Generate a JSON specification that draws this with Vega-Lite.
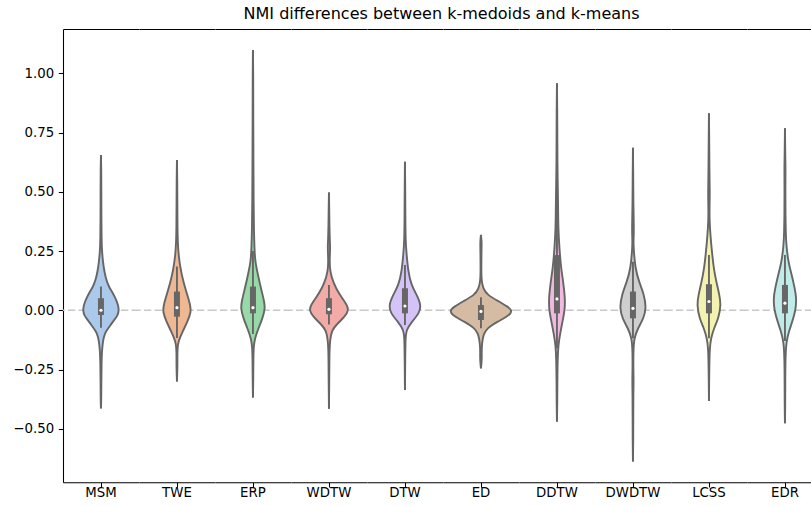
{
 "$schema": "https://vega.github.io/schema/vega-lite/v6.json",
 "padding": {"left": 5, "top": 6, "right": 0, "bottom": 0},
 "bounds": "flush",
 "title": {"text": "NMI differences between k-medoids and k-means", "font": "DejaVu Sans", "fontSize": 16, "fontWeight": "normal", "color": "#000", "offset": 7, "anchor": "middle", "dx": 27},
 "data": {"values": [
  {"c":"MSM","v":0.655,"d":0},{"c":"MSM","v":0.6,"d":0.03},{"c":"MSM","v":0.5,"d":0.04},{"c":"MSM","v":0.4,"d":0.04},{"c":"MSM","v":0.3,"d":0.06},{"c":"MSM","v":0.25,"d":0.1},{"c":"MSM","v":0.205,"d":0.2},{"c":"MSM","v":0.17,"d":0.32},{"c":"MSM","v":0.135,"d":0.48},{"c":"MSM","v":0.1,"d":0.78},{"c":"MSM","v":0.079,"d":1.1},{"c":"MSM","v":0.051,"d":1.45},{"c":"MSM","v":0.022,"d":1.72},{"c":"MSM","v":0.0,"d":1.8},{"c":"MSM","v":-0.02,"d":1.68},{"c":"MSM","v":-0.034,"d":1.45},{"c":"MSM","v":-0.062,"d":0.96},{"c":"MSM","v":-0.09,"d":0.48},{"c":"MSM","v":-0.11,"d":0.3},{"c":"MSM","v":-0.132,"d":0.2},{"c":"MSM","v":-0.17,"d":0.1},{"c":"MSM","v":-0.217,"d":0.06},{"c":"MSM","v":-0.3,"d":0.04},{"c":"MSM","v":-0.38,"d":0.03},{"c":"MSM","v":-0.414,"d":0},
  {"c":"TWE","v":0.634,"d":0},{"c":"TWE","v":0.55,"d":0.03},{"c":"TWE","v":0.45,"d":0.04},{"c":"TWE","v":0.35,"d":0.05},{"c":"TWE","v":0.29,"d":0.08},{"c":"TWE","v":0.233,"d":0.16},{"c":"TWE","v":0.177,"d":0.35},{"c":"TWE","v":0.121,"d":0.63},{"c":"TWE","v":0.065,"d":1.03},{"c":"TWE","v":0.022,"d":1.33},{"c":"TWE","v":-0.006,"d":1.42},{"c":"TWE","v":-0.048,"d":1.06},{"c":"TWE","v":-0.09,"d":0.56},{"c":"TWE","v":-0.132,"d":0.13},{"c":"TWE","v":-0.16,"d":0.06},{"c":"TWE","v":-0.2,"d":0.04},{"c":"TWE","v":-0.23,"d":0.05},{"c":"TWE","v":-0.26,"d":0.03},{"c":"TWE","v":-0.301,"d":0},
  {"c":"ERP","v":1.098,"d":0},{"c":"ERP","v":1.0,"d":0.03},{"c":"ERP","v":0.8,"d":0.03},{"c":"ERP","v":0.6,"d":0.05},{"c":"ERP","v":0.45,"d":0.07},{"c":"ERP","v":0.35,"d":0.09},{"c":"ERP","v":0.26,"d":0.15},{"c":"ERP","v":0.205,"d":0.22},{"c":"ERP","v":0.149,"d":0.5},{"c":"ERP","v":0.093,"d":0.8},{"c":"ERP","v":0.037,"d":1.13},{"c":"ERP","v":0.008,"d":1.22},{"c":"ERP","v":-0.034,"d":0.96},{"c":"ERP","v":-0.076,"d":0.55},{"c":"ERP","v":-0.118,"d":0.2},{"c":"ERP","v":-0.15,"d":0.08},{"c":"ERP","v":-0.2,"d":0.04},{"c":"ERP","v":-0.3,"d":0.03},{"c":"ERP","v":-0.368,"d":0},
  {"c":"WDTW","v":0.497,"d":0},{"c":"WDTW","v":0.42,"d":0.03},{"c":"WDTW","v":0.35,"d":0.05},{"c":"WDTW","v":0.3,"d":0.08},{"c":"WDTW","v":0.262,"d":0.13},{"c":"WDTW","v":0.22,"d":0.07},{"c":"WDTW","v":0.18,"d":0.08},{"c":"WDTW","v":0.142,"d":0.23},{"c":"WDTW","v":0.093,"d":0.68},{"c":"WDTW","v":0.051,"d":1.33},{"c":"WDTW","v":0.022,"d":1.8},{"c":"WDTW","v":0.001,"d":1.98},{"c":"WDTW","v":-0.027,"d":1.6},{"c":"WDTW","v":-0.062,"d":0.7},{"c":"WDTW","v":-0.085,"d":0.33},{"c":"WDTW","v":-0.104,"d":0.2},{"c":"WDTW","v":-0.14,"d":0.08},{"c":"WDTW","v":-0.2,"d":0.04},{"c":"WDTW","v":-0.3,"d":0.03},{"c":"WDTW","v":-0.416,"d":0},
  {"c":"DTW","v":0.627,"d":0},{"c":"DTW","v":0.5,"d":0.03},{"c":"DTW","v":0.4,"d":0.04},{"c":"DTW","v":0.29,"d":0.06},{"c":"DTW","v":0.233,"d":0.17},{"c":"DTW","v":0.163,"d":0.33},{"c":"DTW","v":0.107,"d":0.63},{"c":"DTW","v":0.065,"d":1.18},{"c":"DTW","v":0.022,"d":1.62},{"c":"DTW","v":-0.013,"d":1.43},{"c":"DTW","v":-0.048,"d":0.7},{"c":"DTW","v":-0.083,"d":0.13},{"c":"DTW","v":-0.12,"d":0.05},{"c":"DTW","v":-0.2,"d":0.03},{"c":"DTW","v":-0.336,"d":0},
  {"c":"ED","v":0.318,"d":0},{"c":"ED","v":0.3,"d":0.05},{"c":"ED","v":0.28,"d":0.07},{"c":"ED","v":0.24,"d":0.05},{"c":"ED","v":0.2,"d":0.04},{"c":"ED","v":0.15,"d":0.04},{"c":"ED","v":0.12,"d":0.08},{"c":"ED","v":0.093,"d":0.22},{"c":"ED","v":0.065,"d":0.62},{"c":"ED","v":0.037,"d":1.8},{"c":"ED","v":0.016,"d":2.65},{"c":"ED","v":-0.003,"d":3.2},{"c":"ED","v":-0.027,"d":2.65},{"c":"ED","v":-0.048,"d":1.65},{"c":"ED","v":-0.076,"d":0.6},{"c":"ED","v":-0.1,"d":0.3},{"c":"ED","v":-0.118,"d":0.18},{"c":"ED","v":-0.16,"d":0.06},{"c":"ED","v":-0.2,"d":0.09},{"c":"ED","v":-0.225,"d":0.05},{"c":"ED","v":-0.245,"d":0},
  {"c":"DDTW","v":0.958,"d":0},{"c":"DDTW","v":0.85,"d":0.03},{"c":"DDTW","v":0.7,"d":0.04},{"c":"DDTW","v":0.6,"d":0.05},{"c":"DDTW","v":0.48,"d":0.1},{"c":"DDTW","v":0.4,"d":0.12},{"c":"DDTW","v":0.346,"d":0.14},{"c":"DDTW","v":0.28,"d":0.22},{"c":"DDTW","v":0.233,"d":0.3},{"c":"DDTW","v":0.177,"d":0.42},{"c":"DDTW","v":0.121,"d":0.62},{"c":"DDTW","v":0.065,"d":0.78},{"c":"DDTW","v":0.008,"d":0.82},{"c":"DDTW","v":-0.048,"d":0.55},{"c":"DDTW","v":-0.104,"d":0.3},{"c":"DDTW","v":-0.146,"d":0.14},{"c":"DDTW","v":-0.2,"d":0.07},{"c":"DDTW","v":-0.3,"d":0.04},{"c":"DDTW","v":-0.4,"d":0.03},{"c":"DDTW","v":-0.47,"d":0},
  {"c":"DWDTW","v":0.686,"d":0},{"c":"DWDTW","v":0.55,"d":0.03},{"c":"DWDTW","v":0.45,"d":0.04},{"c":"DWDTW","v":0.37,"d":0.08},{"c":"DWDTW","v":0.33,"d":0.09},{"c":"DWDTW","v":0.29,"d":0.05},{"c":"DWDTW","v":0.26,"d":0.07},{"c":"DWDTW","v":0.177,"d":0.23},{"c":"DWDTW","v":0.121,"d":0.6},{"c":"DWDTW","v":0.065,"d":1.13},{"c":"DWDTW","v":0.008,"d":1.33},{"c":"DWDTW","v":-0.034,"d":1.06},{"c":"DWDTW","v":-0.076,"d":0.5},{"c":"DWDTW","v":-0.118,"d":0.1},{"c":"DWDTW","v":-0.18,"d":0.04},{"c":"DWDTW","v":-0.25,"d":0.04},{"c":"DWDTW","v":-0.3,"d":0.07},{"c":"DWDTW","v":-0.35,"d":0.04},{"c":"DWDTW","v":-0.45,"d":0.03},{"c":"DWDTW","v":-0.55,"d":0.03},{"c":"DWDTW","v":-0.638,"d":0},
  {"c":"LCSS","v":0.831,"d":0},{"c":"LCSS","v":0.7,"d":0.03},{"c":"LCSS","v":0.6,"d":0.04},{"c":"LCSS","v":0.5,"d":0.09},{"c":"LCSS","v":0.42,"d":0.05},{"c":"LCSS","v":0.38,"d":0.06},{"c":"LCSS","v":0.318,"d":0.14},{"c":"LCSS","v":0.233,"d":0.33},{"c":"LCSS","v":0.177,"d":0.48},{"c":"LCSS","v":0.121,"d":0.73},{"c":"LCSS","v":0.065,"d":1.05},{"c":"LCSS","v":0.022,"d":1.2},{"c":"LCSS","v":-0.034,"d":0.96},{"c":"LCSS","v":-0.076,"d":0.5},{"c":"LCSS","v":-0.118,"d":0.2},{"c":"LCSS","v":-0.16,"d":0.07},{"c":"LCSS","v":-0.25,"d":0.03},{"c":"LCSS","v":-0.383,"d":0},
  {"c":"EDR","v":0.768,"d":0},{"c":"EDR","v":0.65,"d":0.03},{"c":"EDR","v":0.6,"d":0.06},{"c":"EDR","v":0.5,"d":0.04},{"c":"EDR","v":0.4,"d":0.05},{"c":"EDR","v":0.33,"d":0.08},{"c":"EDR","v":0.276,"d":0.13},{"c":"EDR","v":0.205,"d":0.33},{"c":"EDR","v":0.149,"d":0.68},{"c":"EDR","v":0.093,"d":0.98},{"c":"EDR","v":0.051,"d":1.15},{"c":"EDR","v":0.001,"d":1.08},{"c":"EDR","v":-0.048,"d":0.73},{"c":"EDR","v":-0.09,"d":0.4},{"c":"EDR","v":-0.132,"d":0.13},{"c":"EDR","v":-0.2,"d":0.05},{"c":"EDR","v":-0.3,"d":0.03},{"c":"EDR","v":-0.4,"d":0.03},{"c":"EDR","v":-0.477,"d":0},
  {"c":"MSM","q1":-0.02,"q3":0.051,"lo":-0.074,"hi":0.1,"med":0.0},
  {"c":"TWE","q1":-0.027,"q3":0.079,"lo":-0.117,"hi":0.185,"med":0.011},
  {"c":"ERP","q1":-0.013,"q3":0.1,"lo":-0.1,"hi":0.25,"med":0.011},
  {"c":"WDTW","q1":-0.017,"q3":0.051,"lo":-0.06,"hi":0.107,"med":0.004},
  {"c":"DTW","q1":-0.013,"q3":0.093,"lo":-0.062,"hi":0.191,"med":0.018},
  {"c":"ED","q1":-0.041,"q3":0.022,"lo":-0.076,"hi":0.055,"med":-0.005},
  {"c":"DDTW","q1":-0.013,"q3":0.233,"lo":-0.16,"hi":0.55,"med":0.048},
  {"c":"DWDTW","q1":-0.034,"q3":0.079,"lo":-0.118,"hi":0.205,"med":0.008},
  {"c":"LCSS","q1":-0.013,"q3":0.11,"lo":-0.118,"hi":0.233,"med":0.037},
  {"c":"EDR","q1":-0.013,"q3":0.107,"lo":-0.13,"hi":0.233,"med":0.03}
 ]},
 "spacing": 0,
 "resolve": {"scale": {"x": "independent"}},
 "facet": {"column": {"field": "c", "type": "nominal", "title": null,
   "sort": ["MSM","TWE","ERP","WDTW","DTW","ED","DDTW","DWDTW","LCSS","EDR"],
   "header": {"labelOrient": "bottom", "labelFont": "DejaVu Sans", "labelFontSize": 13.3, "labelColor": "#000", "labelPadding": 3, "labelBaseline": "top"}}},
 "spec": {
  "width": 75.9,
  "height": 453.3,
  "resolve": {"scale": {"x": "independent"}},
  "layer": [
   {"transform": [{"filter": "isValid(datum.q1)"}],
    "mark": {"type": "rule", "color": "#c8c8c8", "strokeWidth": 1.5, "strokeDash": [7.4, 3.2]},
    "encoding": {"y": {"datum": 0, "type": "quantitative", "scale": {"domain": [-0.726, 1.187], "nice": false, "zero": false}, "axis": {"title": null, "values": [-0.5,-0.25,0,0.25,0.5,0.75,1.0], "format": ".2f"}}}},
   {"transform": [{"filter": "isValid(datum.d)"}],
    "mark": {"type": "area", "orient": "horizontal", "interpolate": "basis"},
    "encoding": {
     "x": {"field": "d", "type": "quantitative", "stack": null, "scale": {"domain": [-3.795, 3.795], "nice": false, "zero": false}, "axis": {"values": [0], "labels": false, "title": null}},
     "y": {"field": "v", "type": "quantitative", "scale": {"domain": [-0.726, 1.187], "nice": false, "zero": false}, "axis": {"title": null, "values": [-0.5,-0.25,0,0.25,0.5,0.75,1.0], "format": ".2f"}},
     "color": {"field": "c", "type": "nominal", "legend": null, "scale": {"domain": ["MSM","TWE","ERP","WDTW","DTW","ED","DDTW","DWDTW","LCSS","EDR"], "range": ["#abc9ea","#efb792","#98daa7","#f3aba8","#d3c3f6","#d6bba3","#f1b9e0","#cfcfcf","#f3f2ae","#c0ebe9"]}}}},
   {"transform": [{"filter": "isValid(datum.d)"}],
    "mark": {"type": "area", "orient": "horizontal", "interpolate": "basis"},
    "encoding": {
     "x": {"field": "d", "type": "quantitative", "stack": null, "scale": {"domain": [-3.795, 3.795], "nice": false, "zero": false, "reverse": true}, "axis": {"orient": "top", "values": [], "labels": false, "ticks": false, "domain": true, "title": null}},
     "y": {"field": "v", "type": "quantitative", "scale": {"domain": [-0.726, 1.187], "nice": false, "zero": false}, "axis": {"title": null, "values": [-0.5,-0.25,0,0.25,0.5,0.75,1.0], "format": ".2f"}},
     "color": {"field": "c", "type": "nominal", "legend": null, "scale": {"domain": ["MSM","TWE","ERP","WDTW","DTW","ED","DDTW","DWDTW","LCSS","EDR"], "range": ["#abc9ea","#efb792","#98daa7","#f3aba8","#d3c3f6","#d6bba3","#f1b9e0","#cfcfcf","#f3f2ae","#c0ebe9"]}}}},
   {"transform": [{"filter": "isValid(datum.d)"}],
    "mark": {"type": "line", "interpolate": "basis", "color": "#666666", "strokeWidth": 1.9},
    "encoding": {
     "x": {"field": "d", "type": "quantitative", "scale": {"domain": [-3.795, 3.795], "nice": false, "zero": false}, "axis": null},
     "y": {"field": "v", "type": "quantitative", "scale": {"domain": [-0.726, 1.187], "nice": false, "zero": false}, "axis": {"title": null, "values": [-0.5,-0.25,0,0.25,0.5,0.75,1.0], "format": ".2f"}},
     "order": {"field": "v", "type": "quantitative"}}},
   {"transform": [{"filter": "isValid(datum.d)"}],
    "mark": {"type": "line", "interpolate": "basis", "color": "#666666", "strokeWidth": 1.9},
    "encoding": {
     "x": {"field": "d", "type": "quantitative", "scale": {"domain": [-3.795, 3.795], "nice": false, "zero": false, "reverse": true}, "axis": null},
     "y": {"field": "v", "type": "quantitative", "scale": {"domain": [-0.726, 1.187], "nice": false, "zero": false}, "axis": {"title": null, "values": [-0.5,-0.25,0,0.25,0.5,0.75,1.0], "format": ".2f"}},
     "order": {"field": "v", "type": "quantitative"}}},
   {"transform": [{"filter": "isValid(datum.q1)"}],
    "mark": {"type": "rule", "color": "#666666", "strokeWidth": 1.9},
    "encoding": {
     "x": {"datum": 0, "type": "quantitative", "scale": {"domain": [-3.795, 3.795], "nice": false, "zero": false}, "axis": null},
     "y": {"field": "lo", "type": "quantitative", "scale": {"domain": [-0.726, 1.187], "nice": false, "zero": false}, "axis": {"title": null, "values": [-0.5,-0.25,0,0.25,0.5,0.75,1.0], "format": ".2f"}},
     "y2": {"field": "hi"}}},
   {"transform": [{"filter": "isValid(datum.q1)"}],
    "mark": {"type": "rule", "color": "#666666", "strokeWidth": 6},
    "encoding": {
     "x": {"datum": 0, "type": "quantitative", "scale": {"domain": [-3.795, 3.795], "nice": false, "zero": false}, "axis": null},
     "y": {"field": "q1", "type": "quantitative", "scale": {"domain": [-0.726, 1.187], "nice": false, "zero": false}, "axis": {"title": null, "values": [-0.5,-0.25,0,0.25,0.5,0.75,1.0], "format": ".2f"}},
     "y2": {"field": "q3"}}},
   {"transform": [{"filter": "isValid(datum.q1)"}],
    "mark": {"type": "point", "filled": true, "color": "#ffffff", "opacity": 1, "size": 10, "shape": "circle"},
    "encoding": {
     "x": {"datum": 0, "type": "quantitative", "scale": {"domain": [-3.795, 3.795], "nice": false, "zero": false}, "axis": null},
     "y": {"field": "med", "type": "quantitative", "scale": {"domain": [-0.726, 1.187], "nice": false, "zero": false}, "axis": {"title": null, "values": [-0.5,-0.25,0,0.25,0.5,0.75,1.0], "format": ".2f"}}}}
  ]
 },
 "config": {
  "view": {"stroke": null},
  "font": "DejaVu Sans",
  "axis": {"grid": false, "domainColor": "#000", "tickColor": "#000", "labelColor": "#000", "domainWidth": 1.07, "tickWidth": 1.07, "tickSize": 4.7, "labelFontSize": 13.3, "labelFont": "DejaVu Sans", "labelPadding": 4.7},
  "axisY": {"minExtent": 57.5, "maxExtent": 57.5}
 }
}
